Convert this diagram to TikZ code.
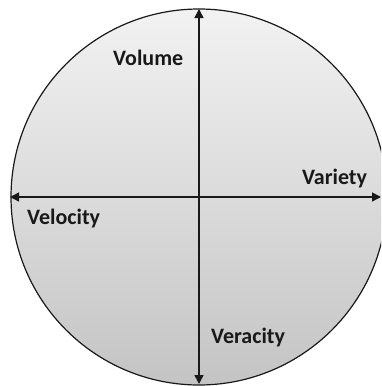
\documentclass[tikz,border=0pt]{standalone}
\usepackage{fontspec}
\setmainfont{Carlito}
\usetikzlibrary{arrows.meta}
\definecolor{gtop}{RGB}{242,242,242}
\definecolor{gbot}{RGB}{196,196,196}
\definecolor{txt}{RGB}{25,25,25}
\tikzset{
  axis/.style={line width=1.4pt, draw=txt, {Triangle[length=9pt,width=9pt]}-{Triangle[length=9pt,width=9pt]}},
  lbl/.style={font=\bfseries\fontsize{22}{26}\selectfont, text=txt, inner sep=0pt, anchor=base west}
}
\begin{document}
\begin{tikzpicture}[x=1pt,y=-1pt]
\useasboundingbox (0,0) rectangle (381,386);
\clip (0,0) rectangle (381,386);
\node[circle, minimum size=376pt, inner sep=0pt, draw=txt, line width=1.2pt, top color=gtop, bottom color=gbot, shading angle=0] (c) at (199,197) {};
\coordinate (t) at (199,9);
\coordinate (b) at (199,384);
\coordinate (l) at (10,197);
\coordinate (r) at (381,197);
\draw[axis] (b) -- (t);
\draw[axis] (l) -- (r);
\node[lbl] (vol) at (113,65.5) {Volume};
\node[lbl] (var) at (302,184) {Variety};
\node[lbl] (vel) at (27,224) {Velocity};
\node[lbl] (ver) at (211,343) {Veracity};
\end{tikzpicture}
\end{document}
